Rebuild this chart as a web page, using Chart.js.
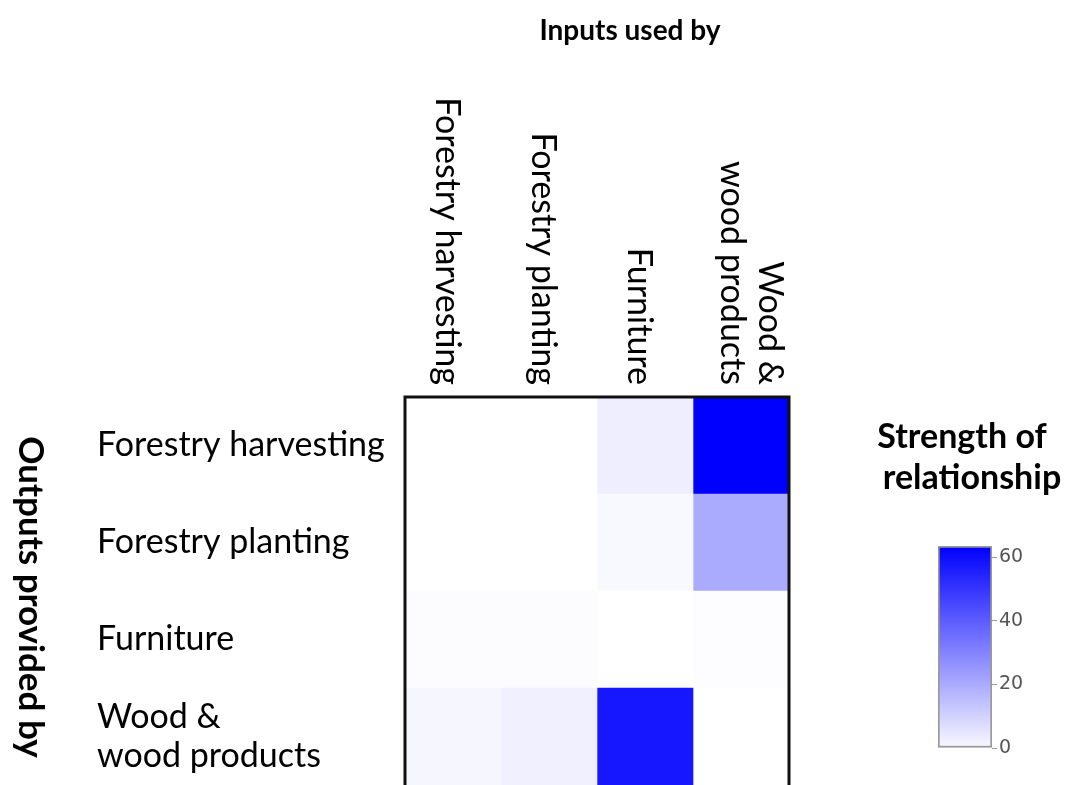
<!DOCTYPE html>
<html>
<head>
<meta charset="utf-8">
<script src="https://cdn.jsdelivr.net/npm/chart.js@4.4.1/dist/chart.umd.min.js"></script>
<style>
	body { margin: 0; background: #fff; }
	#main { position: absolute; left: 0; top: 0; width: 1075px; height: 785px; }
	#bar { position: absolute; left: 900px; top: 520px; width: 175px; height: 250px; }
</style>
</head>
<body>
<div id="main"><canvas id="heatmap"></canvas></div>
<div id="bar"><canvas id="colorbar"></canvas></div>
<script>

// Sectors using inputs (columns) and providing outputs (rows)
const inputSectors = ['Forestry harvesting', 'Forestry planting', 'Furniture', ['Wood &', 'wood products']];

const outputSectors = ['Forestry harvesting', 'Forestry planting', 'Furniture', ['Wood &', 'wood products']];

// Strength of relationship, one row per output sector
const harvestingRow = [0, 0, 4.2, 63.6];
const plantingRow = [0, 0, 1.7, 21.2];
const furnitureRow = [0.7, 0.7, 0, 0.6];
const woodRow = [2.3, 3.7, 58.1, 0];

const strength = [harvestingRow, plantingRow, furnitureRow, woodRow];

const scaleMax = 63.6;
const colorbarTicks = [0, 20, 40, 60];

const labelFont = 'Lato';

// white -> blue ramp
function shade(v) {
	const c = Math.round(255 * (1 - v / scaleMax));
	return `rgb(${c}, ${c}, 255)`;
}

const heatmapText = {
	id: 'heatmapText',
	afterDraw(chart) {
		const ctx = chart.ctx;
		const area = chart.chartArea;
		const x = chart.scales.x;
		ctx.save();

		// frame round the cells
		ctx.strokeStyle = '#111';
		ctx.lineWidth = 3;
		ctx.beginPath();
		ctx.moveTo(area.left, area.bottom + 2);
		ctx.lineTo(area.left, area.top);
		ctx.lineTo(area.right, area.top);
		ctx.lineTo(area.right, area.bottom + 2);
		ctx.stroke();

		// column labels, turned clockwise
		ctx.fillStyle = '#000';
		ctx.font = `34px ${labelFont}`;
		ctx.textAlign = 'right';
		ctx.textBaseline = 'middle';
		inputSectors.forEach((label, i) => {
			const lines = [].concat(label);
			const shift = lines.length > 1 ? 10 : -6;
			ctx.save();
			ctx.translate(x.getPixelForValue(i + 0.5) + shift, area.top - 12);
			ctx.rotate(Math.PI / 2);
			lines.forEach((line, k) => {
				ctx.fillText(line, 0, (k - (lines.length - 1) / 2) * 38);
			});
			ctx.restore();
		});

		// titles
		ctx.font = `bold 28px ${labelFont}`;
		ctx.textAlign = 'center';
		ctx.fillText('Inputs used by', 630, 31);

		ctx.font = `bold 34px ${labelFont}`;
		ctx.fillText('Strength of', 962, 437);
		ctx.fillText('relationship', 972, 478);

		ctx.font = `bold 35px ${labelFont}`;
		ctx.save();
		ctx.translate(30, 597);
		ctx.rotate(Math.PI / 2);
		ctx.fillText('Outputs provided by', 0, 0);
		ctx.restore();

		ctx.restore();
	}
};

new Chart(document.getElementById('heatmap'), {
	type: 'bar',
	data: {
		labels: outputSectors,
		datasets: inputSectors.map((col, j) => ({
			label: [].concat(col).join(' '),
			data: strength.map(() => [j, j + 1]),
			backgroundColor: strength.map(row => shade(row[j])),
			borderWidth: 0,
			grouped: false,
			barPercentage: 1,
			categoryPercentage: 1
		}))
	},
	options: {
		indexAxis: 'y',
		responsive: true,
		maintainAspectRatio: false,
		animation: false,
		layout: {
			padding: { top: 397, right: 286, bottom: 0, left: 97 }
		},
		plugins: {
			legend: { display: false },
			tooltip: { enabled: false }
		},
		scales: {
			x: {
				type: 'linear',
				min: 0,
				max: 4,
				display: false
			},
			y: {
				grid: { display: false },
				border: { display: false },
				ticks: {
					autoSkip: false,
					crossAlign: 'far',
					padding: 0,
					color: '#000',
					font: { family: labelFont, size: 34, lineHeight: 1.15 }
				},
				afterFit: scale => {
					scale.width = 308;
					scale.paddingTop = 0;
					scale.paddingBottom = 0;
				}
			}
		}
	},
	plugins: [heatmapText]
});

new Chart(document.getElementById('colorbar'), {
	type: 'bar',
	data: {
		labels: [''],
		datasets: [{
			data: [scaleMax],
			backgroundColor: context => {
				const chart = context.chart;
				if (!chart.chartArea) return shade(scaleMax);
				const y = chart.scales.y;
				const g = chart.ctx.createLinearGradient(0, y.getPixelForValue(0), 0, y.getPixelForValue(scaleMax));
				g.addColorStop(0, shade(1.5));
				g.addColorStop(1, shade(scaleMax));
				return g;
			},
			borderColor: '#999',
			borderWidth: 2,
			borderSkipped: false,
			barPercentage: 1,
			categoryPercentage: 1
		}]
	},
	options: {
		responsive: true,
		maintainAspectRatio: false,
		animation: false,
		layout: {
			padding: { top: 26, right: 43, bottom: 22, left: 38 }
		},
		plugins: {
			legend: { display: false },
			tooltip: { enabled: false }
		},
		scales: {
			x: { display: false },
			y: {
				position: 'right',
				min: 0,
				max: scaleMax,
				afterBuildTicks: scale => {
					scale.ticks = colorbarTicks.map(v => ({ value: v }));
				},
				grid: { drawOnChartArea: false, drawTicks: true, tickLength: 5, color: '#999' },
				border: { display: false },
				ticks: {
					color: '#555',
					padding: 2,
					font: { family: 'DejaVu Sans', size: 19 }
				},
				afterFit: scale => {
					scale.width = 40;
				}
			}
		}
	}
});

</script>
</body>
</html>
